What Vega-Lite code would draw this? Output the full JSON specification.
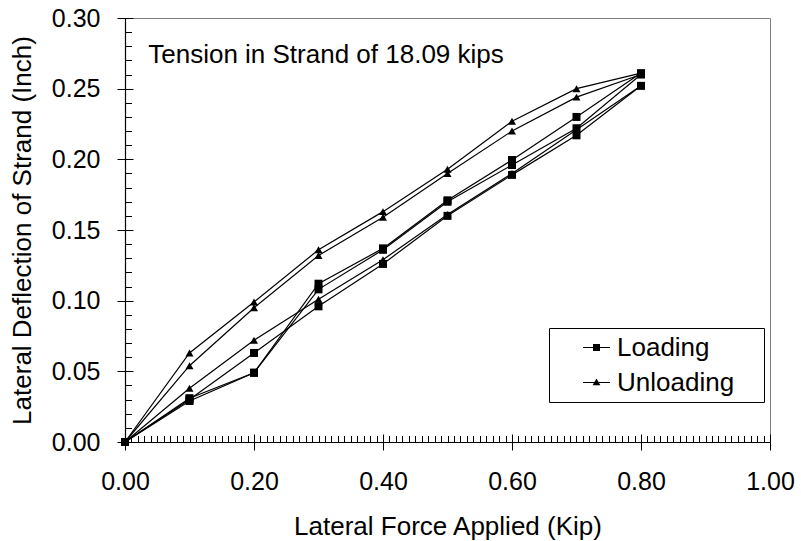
{
  "$schema": "https://vega.github.io/schema/vega-lite/v6.json",
  "autosize": {"type": "none"},
  "padding": {"left": 125, "top": 18, "right": 31, "bottom": 99},
  "width": 645,
  "height": 424,
  "background": "white",
  "datasets": {
    "curves": [
      {"cycle": "U1", "type": "Unloading", "force": 0.8, "deflection": 0.261},
      {"cycle": "U1", "type": "Unloading", "force": 0.7, "deflection": 0.250},
      {"cycle": "U1", "type": "Unloading", "force": 0.6, "deflection": 0.227},
      {"cycle": "U1", "type": "Unloading", "force": 0.5, "deflection": 0.193},
      {"cycle": "U1", "type": "Unloading", "force": 0.4, "deflection": 0.163},
      {"cycle": "U1", "type": "Unloading", "force": 0.3, "deflection": 0.136},
      {"cycle": "U1", "type": "Unloading", "force": 0.2, "deflection": 0.099},
      {"cycle": "U1", "type": "Unloading", "force": 0.1, "deflection": 0.063},
      {"cycle": "U1", "type": "Unloading", "force": 0.0, "deflection": 0.0},
      {"cycle": "U2", "type": "Unloading", "force": 0.8, "deflection": 0.260},
      {"cycle": "U2", "type": "Unloading", "force": 0.7, "deflection": 0.244},
      {"cycle": "U2", "type": "Unloading", "force": 0.6, "deflection": 0.220},
      {"cycle": "U2", "type": "Unloading", "force": 0.5, "deflection": 0.190},
      {"cycle": "U2", "type": "Unloading", "force": 0.4, "deflection": 0.159},
      {"cycle": "U2", "type": "Unloading", "force": 0.3, "deflection": 0.132},
      {"cycle": "U2", "type": "Unloading", "force": 0.2, "deflection": 0.095},
      {"cycle": "U2", "type": "Unloading", "force": 0.1, "deflection": 0.054},
      {"cycle": "U2", "type": "Unloading", "force": 0.0, "deflection": 0.0},
      {"cycle": "U3", "type": "Unloading", "force": 0.8, "deflection": 0.252},
      {"cycle": "U3", "type": "Unloading", "force": 0.7, "deflection": 0.221},
      {"cycle": "U3", "type": "Unloading", "force": 0.6, "deflection": 0.190},
      {"cycle": "U3", "type": "Unloading", "force": 0.5, "deflection": 0.161},
      {"cycle": "U3", "type": "Unloading", "force": 0.4, "deflection": 0.129},
      {"cycle": "U3", "type": "Unloading", "force": 0.3, "deflection": 0.101},
      {"cycle": "U3", "type": "Unloading", "force": 0.2, "deflection": 0.072},
      {"cycle": "U3", "type": "Unloading", "force": 0.1, "deflection": 0.038},
      {"cycle": "U3", "type": "Unloading", "force": 0.0, "deflection": 0.0},
      {"cycle": "L1", "type": "Loading", "force": 0.0, "deflection": 0.0},
      {"cycle": "L1", "type": "Loading", "force": 0.1, "deflection": 0.029},
      {"cycle": "L1", "type": "Loading", "force": 0.2, "deflection": 0.049},
      {"cycle": "L1", "type": "Loading", "force": 0.3, "deflection": 0.112},
      {"cycle": "L1", "type": "Loading", "force": 0.4, "deflection": 0.137},
      {"cycle": "L1", "type": "Loading", "force": 0.5, "deflection": 0.171},
      {"cycle": "L1", "type": "Loading", "force": 0.6, "deflection": 0.1995},
      {"cycle": "L1", "type": "Loading", "force": 0.7, "deflection": 0.230},
      {"cycle": "L1", "type": "Loading", "force": 0.8, "deflection": 0.261},
      {"cycle": "L2", "type": "Loading", "force": 0.0, "deflection": 0.0},
      {"cycle": "L2", "type": "Loading", "force": 0.1, "deflection": 0.031},
      {"cycle": "L2", "type": "Loading", "force": 0.2, "deflection": 0.049},
      {"cycle": "L2", "type": "Loading", "force": 0.3, "deflection": 0.108},
      {"cycle": "L2", "type": "Loading", "force": 0.4, "deflection": 0.136},
      {"cycle": "L2", "type": "Loading", "force": 0.5, "deflection": 0.170},
      {"cycle": "L2", "type": "Loading", "force": 0.6, "deflection": 0.196},
      {"cycle": "L2", "type": "Loading", "force": 0.7, "deflection": 0.222},
      {"cycle": "L2", "type": "Loading", "force": 0.8, "deflection": 0.260},
      {"cycle": "L3", "type": "Loading", "force": 0.0, "deflection": 0.0},
      {"cycle": "L3", "type": "Loading", "force": 0.1, "deflection": 0.030},
      {"cycle": "L3", "type": "Loading", "force": 0.2, "deflection": 0.063},
      {"cycle": "L3", "type": "Loading", "force": 0.3, "deflection": 0.096},
      {"cycle": "L3", "type": "Loading", "force": 0.4, "deflection": 0.126},
      {"cycle": "L3", "type": "Loading", "force": 0.5, "deflection": 0.160},
      {"cycle": "L3", "type": "Loading", "force": 0.6, "deflection": 0.189},
      {"cycle": "L3", "type": "Loading", "force": 0.7, "deflection": 0.217},
      {"cycle": "L3", "type": "Loading", "force": 0.8, "deflection": 0.252}
    ],
    "note": [
      {"text": "Tension in Strand of 18.09 kips", "force": 0.036, "deflection": 0.268}
    ]
  },
  "resolve": {"axis": {"x": "independent", "y": "independent"}, "scale": {"shape": "independent"}, "legend": {"shape": "independent"}},
  "layer": [
    {
      "data": {"name": "curves"},
      "mark": {"type": "line", "color": "black", "strokeWidth": 1.2},
      "encoding": {
        "x": {
          "field": "force", "type": "quantitative",
          "scale": {"domain": [0, 1], "nice": false, "zero": false},
          "axis": {
            "orient": "bottom",
            "values": [0, 0.2, 0.4, 0.6, 0.8, 1.0],
            "format": ".2f",
            "tickSize": 8,
            "tickWidth": 1,
            "domainWidth": 1.2,
            "labelFontSize": 25,
            "labelBaseline": "alphabetic",
            "labelPadding": 39,
            "labelFlush": false,
            "labelOverlap": false,
            "title": "Lateral Force Applied (Kip)",
            "titleFontSize": 26,
            "titleBaseline": "alphabetic",
            "titleY": 92
          }
        },
        "y": {
          "field": "deflection", "type": "quantitative",
          "scale": {"domain": [0, 0.3], "nice": false, "zero": false},
          "axis": {
            "orient": "left",
            "values": [0, 0.05, 0.1, 0.15, 0.2, 0.25, 0.3],
            "format": ".2f",
            "tickSize": 8,
            "tickWidth": 1,
            "domainWidth": 1.2,
            "labelFontSize": 25,
            "labelBaseline": "middle",
            "labelPadding": 17,
            "labelFlush": false,
            "labelOverlap": false,
            "title": "Lateral Deflection of Strand (Inch)",
            "titleFontSize": 26,
            "titleAngle": 270,
            "titleAlign": "center",
            "titleBaseline": "middle",
            "titleX": -103,
            "titleY": 212
          }
        },
        "detail": {"field": "cycle", "type": "nominal"}
      }
    },
    {
      "data": {"name": "curves"},
      "mark": {"type": "point", "filled": true, "size": 64, "opacity": 1, "color": "black", "strokeWidth": 0},
      "encoding": {
        "x": {
          "field": "force", "type": "quantitative",
          "axis": {
            "orient": "bottom",
            "values": [0,0.01,0.02,0.03,0.04,0.05,0.06,0.07,0.08,0.09,0.1,0.11,0.12,0.13,0.14,0.15,0.16,0.17,0.18,0.19,0.2,0.21,0.22,0.23,0.24,0.25,0.26,0.27,0.28,0.29,0.3,0.31,0.32,0.33,0.34,0.35,0.36,0.37,0.38,0.39,0.4,0.41,0.42,0.43,0.44,0.45,0.46,0.47,0.48,0.49,0.5,0.51,0.52,0.53,0.54,0.55,0.56,0.57,0.58,0.59,0.6,0.61,0.62,0.63,0.64,0.65,0.66,0.67,0.68,0.69,0.7,0.71,0.72,0.73,0.74,0.75,0.76,0.77,0.78,0.79,0.8,0.81,0.82,0.83,0.84,0.85,0.86,0.87,0.88,0.89,0.9,0.91,0.92,0.93,0.94,0.95,0.96,0.97,0.98,0.99,1.0],
            "tickSize": -6.5,
            "tickWidth": 1,
            "labels": false,
            "domain": false,
            "title": null
          }
        },
        "y": {
          "field": "deflection", "type": "quantitative",
          "axis": {
            "orient": "left",
            "values": [0,0.01,0.02,0.03,0.04,0.05,0.06,0.07,0.08,0.09,0.1,0.11,0.12,0.13,0.14,0.15,0.16,0.17,0.18,0.19,0.2,0.21,0.22,0.23,0.24,0.25,0.26,0.27,0.28,0.29,0.3],
            "tickSize": -6.5,
            "tickWidth": 1,
            "labels": false,
            "domain": false,
            "title": null
          }
        },
        "shape": {
          "field": "type", "type": "nominal",
          "scale": {"domain": ["Unloading", "Loading"], "range": ["triangle-up", "square"]},
          "legend": null
        }
      }
    },
    {
      "data": {"name": "curves"},
      "transform": [{"filter": "datum.force > 5"}],
      "mark": {"type": "point", "filled": true, "opacity": 1, "color": "black", "strokeWidth": 0},
      "encoding": {
        "x": {"field": "force", "type": "quantitative", "axis": null},
        "y": {"field": "deflection", "type": "quantitative", "axis": null},
        "shape": {
          "field": "type", "type": "nominal",
          "scale": {
            "domain": ["Loading", "Unloading"],
            "range": ["M-1,-0.045H1V0.045H-1ZM-0.26,-0.26H0.26V0.26H-0.26ZM11.95,0Z", "M-1,-0.045H1V0.045H-1ZM0,-0.3L0.29,0.2H-0.29ZM11.95,0Z"]
          },
          "legend": {
            "title": null,
            "orient": "none",
            "legendX": 424,
            "legendY": 310,
            "padding": 6,
            "strokeColor": "black",
            "fillColor": "white",
            "symbolSize": 729,
            "symbolOffset": 28,
            "symbolFillColor": "black",
            "symbolStrokeWidth": 0,
            "symbolOpacity": 1,
            "labelFontSize": 26,
            "labelFont": "Liberation Sans",
            "labelColor": "black",
            "labelOffset": 7,
            "rowPadding": 8,
            "encode": {
              "symbols": {
                "size": {"value": 729},
                "fill": {"value": "black"},
                "opacity": {"value": 1}
              }
            }
          }
        }
      }
    },
    {
      "data": {"name": "note"},
      "mark": {"type": "text", "align": "left", "baseline": "alphabetic", "fontSize": 26, "font": "Liberation Sans", "color": "black"},
      "encoding": {
        "x": {
          "field": "force", "type": "quantitative",
          "axis": {
            "orient": "bottom",
            "values": [0, 0.2, 0.4, 0.6, 0.8, 1.0],
            "tickSize": -8,
            "tickWidth": 1,
            "labels": false,
            "domain": false,
            "title": null
          }
        },
        "y": {
          "field": "deflection", "type": "quantitative",
          "axis": {
            "orient": "left",
            "values": [0, 0.05, 0.1, 0.15, 0.2, 0.25, 0.3],
            "tickSize": -8,
            "tickWidth": 1,
            "labels": false,
            "domain": false,
            "title": null
          }
        },
        "text": {"field": "text", "type": "nominal"}
      }
    }
  ],
  "config": {
    "font": "Liberation Sans",
    "view": {"stroke": "#808080", "strokeWidth": 1},
    "axis": {
      "grid": false,
      "domainColor": "black",
      "tickColor": "black",
      "labelColor": "black",
      "titleColor": "black",
      "labelFont": "Liberation Sans",
      "titleFont": "Liberation Sans",
      "titleFontWeight": "normal"
    }
  }
}
